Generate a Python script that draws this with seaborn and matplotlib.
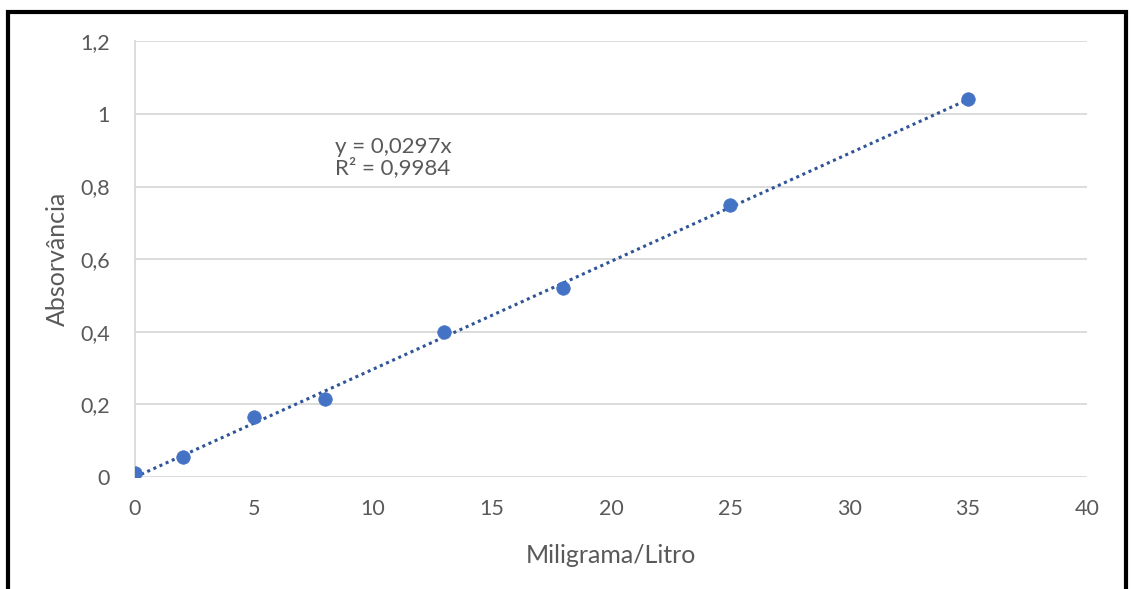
import numpy as np
import pandas as pd
import seaborn as sb
from matplotlib import pyplot as plt
from matplotlib.patches import Rectangle

# data
concentration = [0, 2, 5, 8, 13, 18, 25, 35]
absorbance    = [0.011, 0.055, 0.165, 0.215, 0.40, 0.52, 0.75, 1.04]
slope         = 0.0297
r_squared     = 0.9984
y_ticks       = [0, 0.2, 0.4, 0.6, 0.8, 1.0, 1.2]
y_ticklabels  = ["0", "0,2", "0,4", "0,6", "0,8", "1", "1,2"]
x_ticks       = [0, 5, 10, 15, 20, 25, 30, 35, 40]

df = pd.DataFrame({"mg_l": concentration, "abs": absorbance})
trend = pd.DataFrame({"mg_l": [min(concentration), max(concentration)]})
trend["abs"] = slope * trend["mg_l"]

sb.set_style("white")
plt.rcParams["font.family"] = ["Lato", "DejaVu Sans"]

text_color = "#595959"
grid_color = "#d9d9d9"

fig = plt.figure(figsize=(11.31, 5.89), dpi=100)
ax = fig.add_axes([0.1194, 0.19, 0.8418, 0.74])

# grid lines (Excel style)
for yv in y_ticks:
    ax.axhline(yv, color=grid_color, lw=1.3, zorder=0)

sb.lineplot(data=trend, x="mg_l", y="abs", ax=ax, color="#2f5597",
            linestyle=(0, (1, 1.2)), linewidth=2.2, zorder=2)
sb.scatterplot(data=df, x="mg_l", y="abs", ax=ax, color="#4472c4",
               s=95, edgecolor="#4472c4", linewidth=0.5, zorder=3)

ax.set_xlim(0, 40)
ax.set_ylim(0, 1.2)
ax.set_xticks(x_ticks)
ax.set_xticklabels([str(v) for v in x_ticks])
ax.set_yticks(y_ticks)
ax.set_yticklabels(y_ticklabels)
ax.tick_params(axis="both", labelsize=15.5, colors=text_color, length=0)
ax.tick_params(axis="x", pad=16)
ax.tick_params(axis="y", pad=18)

for side in ["top", "right", "bottom"]:
    ax.spines[side].set_visible(False)
ax.spines["left"].set_color(grid_color)
ax.spines["left"].set_linewidth(1.3)

ax.set_xlabel("Miligrama/Litro", fontsize=18, color=text_color, labelpad=18)
ax.set_ylabel("Absorvância", fontsize=18, color=text_color, labelpad=8)

eq_text = "y = " + f"{slope:.4f}".replace(".", ",") + "x\nR² = " + f"{r_squared:.4f}".replace(".", ",")
ax.text(8.4, 0.937, eq_text, fontsize=16, color=text_color, va="top", ha="left",
        linespacing=1.05)

# outer black frame (bottom edge cut off in the original)
fig.patches.append(Rectangle((8 / 1131, -0.05), (1126 - 8) / 1131, 1.05 - 12 / 589,
                             transform=fig.transFigure, fill=False,
                             edgecolor="black", linewidth=3))

fig.savefig("out.png", dpi=100, facecolor="white")
